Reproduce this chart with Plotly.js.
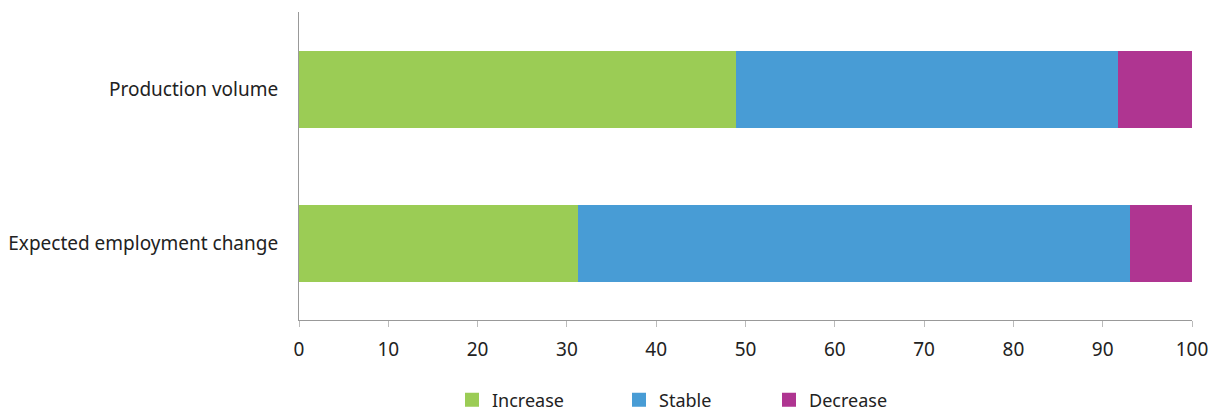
<!DOCTYPE html>
<html>
<head>
<meta charset="utf-8">
<script src="https://cdn.plot.ly/plotly-3.0.1.min.js"></script>
<style>html,body{margin:0;padding:0;background:#fff}#chart{width:1214px;height:414px}</style>
</head>
<body>
<div id="chart"></div>
<script>
const categories = ["Production volume", "Expected employment change"];
const seriesNames = ["Increase", "Stable", "Decrease"];
const increase = [49.0, 31.3];
const stable = [42.8, 61.9];
const decrease = [8.2, 6.8];
const xTicks = [0, 10, 20, 30, 40, 50, 60, 70, 80, 90, 100];
const colors = ["#9BCC55", "#489CD5", "#AF3591"];

const values = [increase, stable, decrease];
const legendIds = ["legend", "legend2", "legend3"];
const data = seriesNames.map((name, i) => ({
  type: "bar",
  orientation: "h",
  name: name,
  y: categories,
  x: values[i],
  marker: {color: colors[i], line: {width: 2, color: colors[i]}},
  width: 0.487,
  legend: legendIds[i],
  hoverinfo: "x+name"
}));

const font = {family: "Noto Sans, sans-serif", size: 19, color: "#222"};
const legendFont = {family: "Noto Sans, sans-serif", size: 18, color: "#222"};
const legendX = [452, 619, 769];
function legendAt(px) {
  return {
    orientation: "h", x: px / 1214, xref: "container", xanchor: "left",
    y: 1 - 400 / 414, yref: "container", yanchor: "middle",
    font: legendFont, itemwidth: 30, bgcolor: "rgba(0,0,0,0)"
  };
}

const layout = {
  width: 1214, height: 414,
  margin: {l: 299, r: 22, t: 12, b: 94, pad: 0},
  barmode: "stack",
  paper_bgcolor: "#fff", plot_bgcolor: "#fff",
  font: font,
  showlegend: true,
  xaxis: {
    range: [0, 100], tickvals: xTicks, ticktext: xTicks.map(String),
    showgrid: false, zeroline: false,
    showline: true, linecolor: "#999", linewidth: 1,
    ticks: "outside", ticklen: 6, tickcolor: "#bbb",
    ticklabelstandoff: 6,
    tickfont: font, fixedrange: true
  },
  yaxis: {
    autorange: "reversed", showgrid: false, zeroline: false,
    showline: true, linecolor: "#999", linewidth: 1,
    ticks: "", ticklabelstandoff: 16, tickfont: font
  },
  legend: legendAt(legendX[0]),
  legend2: legendAt(legendX[1]),
  legend3: legendAt(legendX[2])
};

Plotly.newPlot("chart", data, layout, {displayModeBar: false, staticPlot: true});
</script>
</body>
</html>
